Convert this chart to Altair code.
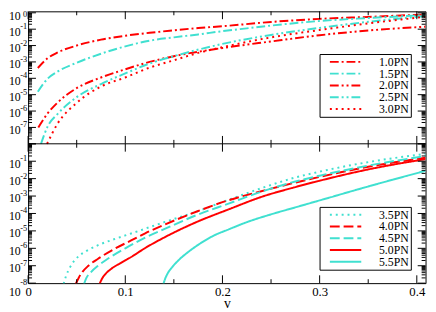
import altair as alt
import pandas as pd

FONT = "Liberation Serif"
RED = "#ff0000"
CYAN = "#40e0d0"

# ---------------- data (log10 of the plotted quantity) -------------
top_series = ["1.0PN", "1.5PN", "2.0PN", "2.5PN", "3.0PN"]
bot_series = ["3.5PN", "4.0PN", "4.5PN", "5.0PN", "5.5PN"]

v_10 = [0.01, 0.02, 0.03, 0.05, 0.075, 0.1, 0.125, 0.15, 0.175, 0.2, 0.25, 0.3, 0.35, 0.409]
lg_10 = [-3.37, -2.78, -2.43, -2.0, -1.64, -1.40, -1.22, -1.07, -0.93, -0.82, -0.56, -0.37, -0.25, -0.1]

v_15 = [0.01, 0.02, 0.03, 0.05, 0.075, 0.1, 0.125, 0.15, 0.175, 0.2, 0.225, 0.25, 0.3, 0.35, 0.409]
lg_15 = [-4.82, -4.03, -3.6, -3.05, -2.5, -2.05, -1.7, -1.5, -1.32, -1.12, -0.95, -0.78, -0.5, -0.32, -0.14]

v_20 = [0.0105, 0.02, 0.03, 0.05, 0.075, 0.1, 0.125, 0.15, 0.2, 0.25, 0.3, 0.35, 0.409]
lg_20 = [-7.0, -6.15, -5.5, -4.6, -3.95, -3.45, -3.0, -2.65, -2.15, -1.75, -1.37, -1.08, -0.85]

v_25 = [0.0133, 0.02, 0.03, 0.05, 0.075, 0.1, 0.125, 0.15, 0.2, 0.25, 0.3, 0.35, 0.409]
lg_25 = [-8.0, -6.95, -6.2, -5.15, -4.35, -3.7, -3.1, -2.65, -1.9, -1.35, -0.92, -0.55, -0.2]

v_30 = [0.0195, 0.03, 0.05, 0.075, 0.1, 0.125, 0.15, 0.175, 0.2, 0.25, 0.3, 0.35, 0.409]
lg_30 = [-8.0, -6.8, -5.5, -4.5, -3.95, -3.35, -2.9, -2.45, -2.1, -1.5, -1.05, -0.65, -0.24]

v_35 = [0.0365, 0.039, 0.043, 0.047, 0.052, 0.06, 0.072, 0.09, 0.106, 0.14, 0.173, 0.207, 0.24, 0.274, 0.3, 0.35, 0.409]
lg_35 = [-8.05, -7.6, -7.1, -6.75, -6.45, -6.15, -5.82, -5.45, -5.15, -4.5, -3.9, -3.2, -2.55, -1.95, -1.6, -1.05, -0.58]

v_40 = [0.049, 0.052, 0.056, 0.062, 0.072, 0.09, 0.106, 0.12, 0.14, 0.173, 0.2, 0.24, 0.274, 0.3, 0.35, 0.409]
lg_40 = [-8.05, -7.7, -7.35, -7.0, -6.6, -6.0, -5.55, -5.15, -4.65, -3.9, -3.35, -2.72, -2.24, -1.9, -1.32, -0.8]

v_45 = [0.0575, 0.06, 0.065, 0.072, 0.082, 0.1, 0.12, 0.14, 0.173, 0.207, 0.24, 0.274, 0.3, 0.35, 0.409]
lg_45 = [-8.05, -7.7, -7.35, -7.0, -6.6, -6.0, -5.4, -4.9, -4.1, -3.42, -2.75, -2.18, -1.83, -1.25, -0.7]

v_50 = [0.0735, 0.076, 0.08, 0.085, 0.095, 0.106, 0.12, 0.14, 0.173, 0.207, 0.24, 0.274, 0.3, 0.35, 0.409]
lg_50 = [-8.05, -7.75, -7.45, -7.2, -6.85, -6.5, -6.0, -5.38, -4.5, -3.75, -3.05, -2.5, -2.12, -1.47, -0.88]

v_55 = [0.1392, 0.141, 0.144, 0.148, 0.156, 0.165, 0.175, 0.19, 0.207, 0.225, 0.25, 0.275, 0.3, 0.35, 0.409]
lg_55 = [-8.05, -7.75, -7.4, -7.1, -6.62, -6.2, -5.8, -5.3, -4.9, -4.5, -4.05, -3.65, -3.25, -2.45, -1.55]

# tick positions and tick labels
x_major = [0, 0.1, 0.2, 0.3, 0.4]
x_minor = [0.05, 0.15, 0.25, 0.35]
exponents = [-9, -8, -7, -6, -5, -4, -3, -2, -1, 0]
mantissas = [2, 3, 4, 5, 6, 7, 8, 9]
top_labels = [1e-1, 1e-2, 1e-3, 1e-4, 1e-5, 1e-6, 1e-7]
top_exps = ["-1", "-2", "-3", "-4", "-5", "-6", "-7"]
top_first = [1.0]
top_first_exp = ["0"]
bot_labels = [1e-1, 1e-2, 1e-3, 1e-4, 1e-5, 1e-6, 1e-7]
bot_exps = ["-1", "-2", "-3", "-4", "-5", "-6", "-7"]
bot_last = [1e-8]
bot_last_exp = ["-8"]

# styles
top_colors = [RED, CYAN, RED, CYAN, RED]
bot_colors = [CYAN, RED, CYAN, RED, CYAN]
top_dash = [[9, 3, 2, 3], [9, 3, 2, 3], [9, 3, 2, 3, 2, 3], [9, 3, 2, 3, 2, 3], [2, 4]]
bot_dash = [[2, 4], [10, 4], [10, 4], [1, 0], [1, 0]]


def frame(name, v, lg):
    return pd.DataFrame({"series": name, "v": v, "val": [10.0 ** x for x in lg]})


top_df = pd.concat([frame("1.0PN", v_10, lg_10), frame("1.5PN", v_15, lg_15),
                    frame("2.0PN", v_20, lg_20), frame("2.5PN", v_25, lg_25),
                    frame("3.0PN", v_30, lg_30)], ignore_index=True)
bot_df = pd.concat([frame("3.5PN", v_35, lg_35), frame("4.0PN", v_40, lg_40),
                    frame("4.5PN", v_45, lg_45), frame("5.0PN", v_50, lg_50),
                    frame("5.5PN", v_55, lg_55)], ignore_index=True)

TOP_MAX = 10 ** 0.09
W, H, HT = 405, 277, 135

y_major_all = [10.0 ** e for e in exponents]
y_minor_all = [m * 10.0 ** e for e in exponents for m in mantissas]
top_major = pd.DataFrame({"t": [t for t in y_major_all if 1e-8 <= t <= TOP_MAX]})
top_minor = pd.DataFrame({"t": [t for t in y_minor_all if 1e-8 <= t <= TOP_MAX]})
bot_major = pd.DataFrame({"t": [t for t in y_major_all if 1e-8 <= t <= 1.0]})
bot_minor = pd.DataFrame({"t": [t for t in y_minor_all if 1e-8 <= t <= 1.0]})
xmaj_df = pd.DataFrame({"t": x_major})
xmin_df = pd.DataFrame({"t": x_minor})

x_scale = alt.Scale(domain=[0, 0.409], nice=False, zero=False)
y_top = alt.Scale(type="log", domain=[1e-8, TOP_MAX], range=[HT, 0], nice=False)
y_bot = alt.Scale(type="log", domain=[1e-8, 1.0], range=[H, HT], nice=False)

X_AXIS = alt.Axis(values=x_major, labelExpr="datum.value == 0 ? '0' : format(datum.value, '.1f')",
                  ticks=False, domain=False, grid=False, title="v",
                  labelFont=FONT, labelFontSize=13, labelColor="black", labelPadding=3,
                  labelOverlap=False, labelFlush=False,
                  titleFont=FONT, titleFontSize=14, titleFontWeight="normal", titleColor="black",
                  titleBaseline="alphabetic", titleY=24.5)


def y_axis(vals, offset):
    return alt.Axis(orient="left", values=vals, labelExpr="'10'", ticks=False, domain=False,
                    grid=False, title=None, labelFont=FONT, labelFontSize=12, labelColor="black",
                    labelPadding=8, labelOffset=offset, labelOverlap=False, labelFlush=False)


AX_TOP = y_axis(top_first + top_labels,
                {"condition": {"test": "datum.value > 0.5", "value": 3}, "value": 2})
AX_BOT = y_axis(bot_labels + bot_last,
                {"condition": {"test": "datum.value < 2e-8", "value": 9}, "value": 2})


def legend(ly):
    return alt.Legend(orient="none", legendX=297, legendY=ly, title=None,
                      symbolType="M-3.2,0H3.2", symbolSize=100, symbolStrokeWidth=2,
                      symbolOffset=18.5, labelOffset=28, labelFont=FONT, labelFontSize=12,
                      labelColor="black", padding=2, rowPadding=0,
                      labelExpr="datum.label + '\u2002\u2009'",
                      strokeColor="black", fillColor="white")


def lines(df, series, colors, dashes, yscale, yaxis, ly):
    leg = legend(ly)
    return alt.Chart(df).mark_line(clip=True, strokeWidth=2, interpolate="monotone").encode(
        x=alt.X("v:Q", scale=x_scale, axis=X_AXIS),
        y=alt.Y("val:Q", scale=yscale, axis=yaxis),
        color=alt.Color("series:N", scale=alt.Scale(domain=series, range=colors), legend=leg),
        strokeDash=alt.StrokeDash("series:N", scale=alt.Scale(domain=series, range=dashes), legend=leg),
    )


def yticks(df, yscale, yaxis, length):
    base = alt.Chart(df).mark_rule(color="black", strokeWidth=1)
    left = base.encode(y=alt.Y("t:Q", scale=yscale, axis=yaxis), x=alt.value(0), x2=alt.value(length))
    right = base.encode(y=alt.Y("t:Q", scale=yscale, axis=yaxis), x=alt.value(W), x2=alt.value(W - length))
    return [left, right]


def xticks(df, y0, y1):
    return alt.Chart(df).mark_rule(color="black", strokeWidth=1).encode(
        x=alt.X("t:Q", scale=x_scale, axis=X_AXIS), y=alt.value(y0), y2=alt.value(y1))


def exps(vals, texts, yscale, yaxis, dy):
    df = pd.DataFrame({"t": vals, "e": texts})
    return alt.Chart(df).mark_text(align="right", baseline="alphabetic", font=FONT, fontSize=8.5,
                                   color="black", dy=dy).encode(
        y=alt.Y("t:Q", scale=yscale, axis=yaxis), x=alt.value(-1), text="e:N")


top_group = alt.layer(
    lines(top_df, top_series, top_colors, top_dash, y_top, AX_TOP, 43.5),
    *yticks(top_major, y_top, AX_TOP, 8),
    *yticks(top_minor, y_top, AX_TOP, 4),
    xticks(xmaj_df, 0, 8),
    xticks(xmin_df, 0, 4),
    xticks(xmaj_df, HT, HT - 8),
    xticks(xmin_df, HT, HT - 4),
    exps(top_labels, top_exps, y_top, AX_TOP, 0),
    exps(top_first, top_first_exp, y_top, AX_TOP, 4.5),
)

separator = alt.Chart(pd.DataFrame({"t": [1.0]})).mark_rule(color="black", strokeWidth=1).encode(
    y=alt.Y("t:Q", scale=y_bot, axis=AX_BOT))

bot_group = alt.layer(
    lines(bot_df, bot_series, bot_colors, bot_dash, y_bot, AX_BOT, 199.3),
    separator,
    *yticks(bot_major, y_bot, AX_BOT, 8),
    *yticks(bot_minor, y_bot, AX_BOT, 4),
    xticks(xmaj_df, HT, HT + 8),
    xticks(xmin_df, HT, HT + 4),
    xticks(xmaj_df, H, H - 8),
    xticks(xmin_df, H, H - 4),
    exps(bot_labels, bot_exps, y_bot, AX_BOT, 0),
    exps(bot_last, bot_last_exp, y_bot, AX_BOT, 2),
)

chart = alt.layer(top_group, bot_group).resolve_scale(
    y="independent", color="independent", strokeDash="independent"
).properties(
    width=W, height=H,
    padding={"left": 20.5, "top": 0.5, "right": 2.5, "bottom": 26},
    autosize=alt.AutoSizeParams(type="none"),
    background="white",
).configure_view(stroke="black", strokeWidth=1)

chart.save("out.html", embed_options={"renderer": "svg", "actions": False})
